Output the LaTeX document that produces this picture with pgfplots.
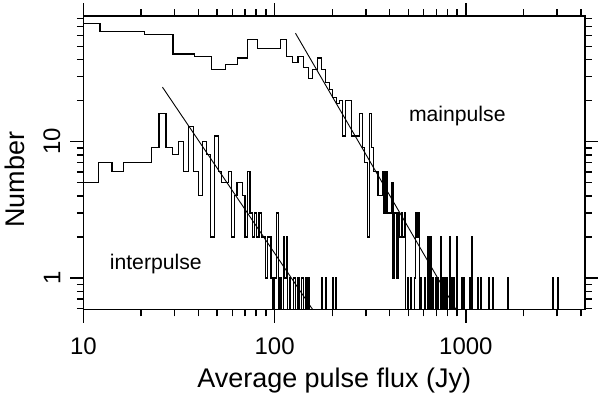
\documentclass[border=0pt]{standalone}
\usepackage{fontspec}
\setmainfont{Liberation Sans}
\usepackage{pgfplots}
\pgfplotsset{compat=1.18}
\usepackage{pgfplotstable}
\usetikzlibrary{calc}

% main pulse histogram: left bin edge, count (0.1 = empty bin, below the axis)
\pgfplotstableread{
x y
3.6 74
12.2 64
20.8 61
29.4 44
38.0 42
46.6 34
55.2 37
63.8 41
72.4 56
81.0 48
106.8 56
115.4 42
124.0 38
132.6 42
141.2 35
149.8 29
158.4 34
167.0 41
175.6 34
184.2 27
192.8 24
201.4 21
210.0 19
218.6 20
227.2 11
235.8 20
253.0 11
278.8 16
287.4 9
296.0 7
304.6 2
313.2 16
321.8 9
330.4 6
347.6 4
364.8 6
373.4 3
382.0 6
390.6 3
407.8 5
416.4 1
425.0 3
433.6 1
442.2 3
450.8 2
459.4 3
468.0 2
476.6 3
485.2 0.1
493.8 1
502.4 0.1
511.0 1
519.6 0.1
536.8 1
545.4 3
554.0 2
562.6 3
571.2 0.1
579.8 1
588.4 0.1
605.6 1
614.2 0.1
631.4 2
640.0 0.1
648.6 2
657.2 0.1
665.8 1
674.4 0.1
691.6 1
700.2 0.1
708.8 1
717.4 0.1
734.6 2
743.2 0.1
751.8 1
760.4 0.1
777.6 1
786.2 0.1
794.8 1
803.4 0.1
820.6 2
829.2 0.1
837.8 1
846.4 0.1
863.6 1
872.2 0.1
889.4 2
898.0 0.1
949.6 1
958.2 0.1
975.4 1
984.0 0.1
1044.2 1
1052.8 0.1
1070.0 2
1078.6 0.1
1156.0 1
1164.6 0.1
1190.4 1
1199.0 0.1
1318.2 1
1326.8 0.1
1379.6 1
1388.2 0.1
1654.8 1
1663.4 0.1
2850.2 1
2858.8 0.1
3030.8 1
3039.4 0.1
5000 0.1
}\mainpulse

% interpulse histogram
\pgfplotstableread{
x y
9.81 5
11.96 7
14.11 6
16.26 7
22.71 9
24.86 16
27.01 9
29.16 8
31.31 10
33.46 6
35.61 13
37.76 6
39.91 4
42.06 10
44.21 8
46.36 2
48.51 11
50.66 6
52.81 5
57.11 6
59.26 2
61.41 4
63.56 5
67.86 4
70.01 2
72.16 6
74.31 3
76.46 2
78.61 3
80.76 2
82.91 3
85.06 2
89.36 1
91.51 2
95.81 1
97.96 0.1
100.11 1
102.26 3
104.41 0.1
106.56 1
108.71 0.1
110.86 2
113.01 1
115.16 2
117.31 0.1
119.46 1
121.61 0.1
125.91 1
128.06 0.1
132.36 1
134.51 0.1
138.81 1
140.96 0.1
145.26 1
147.41 0.1
149.56 1
151.71 0.1
175.36 1
177.51 0.1
183.96 1
186.11 0.1
201.16 1
203.31 0.1
207.61 1
209.76 0.1
300 0.1
}\interpulse

\begin{document}
\begin{tikzpicture}
\begin{axis}[
  name=ax,
  scale only axis, width=251pt, height=147pt,
  xmode=log, ymode=log,
  xmin=10, xmax=4200, ymin=0.585, ymax=83.5,
  axis line style={line width=0.65pt},
  every tick/.style={black, line width=0.65pt},
  tick align=outside,
  major tick length=6.5pt, minor tick length=3.3pt,
  xtick={10,100,1000}, xticklabels={10,100,1000},
  ytick={1,10}, yticklabels={1,10},
  minor xtick={20,30,40,50,60,70,80,90,200,300,400,500,600,700,800,900,2000,3000,4000},
  minor ytick={0.6,0.7,0.8,0.9,2,3,4,5,6,7,8,9,20,30,40,50,60,70,80},
  tick label style={font=\fontsize{12}{14}\selectfont},
  xticklabel style={yshift=-4pt},
  yticklabel style={rotate=90, anchor=south, xshift=0pt, yshift=1.5pt},
]
\addplot[const plot mark left, black, line width=0.6pt] table {\mainpulse};
\addplot[const plot mark left, black, line width=0.6pt] table {\interpulse};
\addplot[black, line width=0.45pt] coordinates {(128.5,62.4) (887,0.589)};
\addplot[black, line width=0.45pt] coordinates {(25.9,25.1) (159,0.58)};
\node[font=\fontsize{10.6}{13}\selectfont] at (axis cs:902,15.4) {mainpulse};
\node[font=\fontsize{10.6}{13}\selectfont] at (axis cs:23.9,1.267) {interpulse};
\end{axis}
\node[font=\fontsize{13.5}{16}\selectfont] at ($(ax.south)+(0,-35.5pt)$) {Average pulse flux (Jy)};
\node[font=\fontsize{13.5}{16}\selectfont, rotate=90] at ($(ax.south west)!0.442!(ax.north west)+(-34.5pt,0)$) {Number};
\pgfresetboundingbox
\path ($(ax.south west)+(-41.75pt,-42pt)$) rectangle ($(ax.north east)+(7.5pt,8pt)$);
\end{tikzpicture}
\end{document}
